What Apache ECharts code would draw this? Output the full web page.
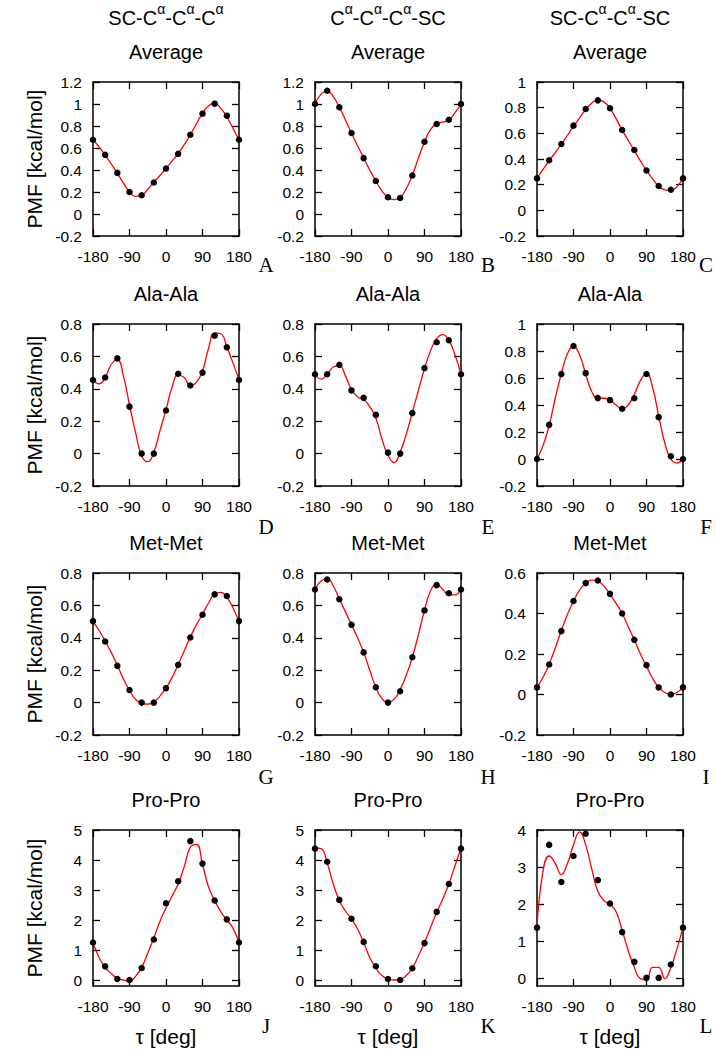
<!DOCTYPE html>
<html lang="en">
<head>
    <meta charset="UTF-8">
    <title>PMF torsion profiles</title>
    <script src="https://cdn.jsdelivr.net/npm/echarts@6/dist/echarts.min.js"></script>
    <style>
        html, body { margin: 0; padding: 0; background: #fff; }
        #chart { width: 716px; height: 1050px; }
    </style>
</head>
<body>
<div id="chart"></div>
<script>
    // torsion angles of the computed points and of the read-off fit curve
    var tau = [-180, -150, -120, -90, -60, -30, 0, 30, 60, 90, 120, 150, 180];
    var tauFine = [-180, -165, -150, -135, -120, -105, -90, -75, -60, -45, -30, -15, 0,
        15, 30, 45, 60, 75, 90, 105, 120, 135, 150, 165, 180];

    var headers = ['SC-C|-C|-C|', 'C|-C|-C|-SC', 'SC-C|-C|-SC'];
    var rowTitles = ['Average', 'Ala-Ala', 'Met-Met', 'Pro-Pro'];
    var letters = ['A', 'B', 'C', 'D', 'E', 'F', 'G', 'H', 'I', 'J', 'K', 'L'];

    var ticksAvg = [-0.2, 0, 0.2, 0.4, 0.6, 0.8, 1, 1.2];
    var ticks10 = [-0.2, 0, 0.2, 0.4, 0.6, 0.8, 1];
    var ticks08 = [-0.2, 0, 0.2, 0.4, 0.6, 0.8];
    var ticks06 = [-0.2, 0, 0.2, 0.4, 0.6];
    var ticksPro5 = [0, 1, 2, 3, 4, 5];
    var ticksPro4 = [0, 1, 2, 3, 4];

    // Average
    var dotsA = [0.675, 0.538, 0.374, 0.20, 0.17, 0.286, 0.413, 0.547, 0.72, 0.912, 1.003, 0.894, 0.675];
    var curveA = [0.675, 0.61, 0.535, 0.455, 0.37, 0.28, 0.20, 0.16, 0.17, 0.225, 0.29, 0.35, 0.415,
        0.48, 0.55, 0.63, 0.72, 0.82, 0.915, 0.985, 1.005, 0.96, 0.885, 0.78, 0.675];
    var dotsB = [1.0, 1.12, 0.97, 0.736, 0.508, 0.30, 0.152, 0.146, 0.35, 0.657, 0.818, 0.857, 1.0];
    var curveB = [1.0, 1.09, 1.12, 1.07, 0.97, 0.855, 0.735, 0.62, 0.51, 0.40, 0.30, 0.21, 0.15,
        0.13, 0.15, 0.23, 0.35, 0.51, 0.655, 0.77, 0.82, 0.835, 0.855, 0.92, 1.0];
    var dotsC = [0.249, 0.39, 0.517, 0.66, 0.79, 0.857, 0.795, 0.626, 0.47, 0.31, 0.19, 0.16, 0.249];
    var curveC = [0.25, 0.32, 0.385, 0.45, 0.515, 0.585, 0.655, 0.72, 0.785, 0.835, 0.86, 0.845, 0.795,
        0.715, 0.625, 0.545, 0.465, 0.385, 0.31, 0.245, 0.19, 0.16, 0.155, 0.185, 0.25];
    // Ala-Ala
    var dotsD = [0.454, 0.47, 0.588, 0.29, 0.0, 0.0, 0.266, 0.493, 0.42, 0.50, 0.728, 0.656, 0.454];
    var curveD = [0.455, 0.43, 0.47, 0.55, 0.58, 0.48, 0.30, 0.13, -0.015, -0.05, 0.01, 0.14, 0.27,
        0.41, 0.485, 0.47, 0.42, 0.44, 0.51, 0.65, 0.745, 0.74, 0.66, 0.56, 0.455];
    var dotsE = [0.49, 0.49, 0.548, 0.39, 0.344, 0.239, 0.006, 0.0, 0.25, 0.528, 0.687, 0.70, 0.49];
    var curveE = [0.49, 0.46, 0.49, 0.535, 0.545, 0.48, 0.395, 0.35, 0.335, 0.29, 0.22, 0.09, -0.01,
        -0.055, 0.01, 0.12, 0.255, 0.39, 0.525, 0.635, 0.71, 0.735, 0.70, 0.61, 0.49];
    var dotsF = [0.0, 0.253, 0.629, 0.837, 0.636, 0.451, 0.436, 0.372, 0.45, 0.63, 0.31, 0.02, 0.0];
    var curveF = [0.0, 0.1, 0.25, 0.45, 0.63, 0.78, 0.835, 0.77, 0.63, 0.5, 0.45, 0.45, 0.435,
        0.40, 0.37, 0.40, 0.48, 0.58, 0.635, 0.53, 0.32, 0.12, 0.0, -0.03, 0.0];
    // Met-Met
    var dotsG = [0.503, 0.377, 0.227, 0.078, 0.0, 0.0, 0.089, 0.233, 0.402, 0.542, 0.668, 0.658, 0.503];
    var curveG = [0.50, 0.445, 0.38, 0.31, 0.23, 0.145, 0.075, 0.02, -0.005, -0.01, 0.005, 0.04, 0.09,
        0.155, 0.235, 0.32, 0.405, 0.48, 0.545, 0.615, 0.67, 0.68, 0.65, 0.585, 0.50];
    var dotsH = [0.698, 0.76, 0.638, 0.48, 0.31, 0.095, 0.0, 0.07, 0.28, 0.569, 0.725, 0.675, 0.698];
    var curveH = [0.70, 0.75, 0.765, 0.72, 0.64, 0.56, 0.48, 0.40, 0.31, 0.20, 0.095, 0.025, 0.0,
        0.02, 0.08, 0.17, 0.28, 0.42, 0.57, 0.69, 0.73, 0.70, 0.665, 0.665, 0.70];
    var dotsI = [0.035, 0.148, 0.313, 0.462, 0.55, 0.563, 0.497, 0.40, 0.27, 0.145, 0.035, 0.0, 0.035];
    var curveI = [0.035, 0.085, 0.15, 0.23, 0.315, 0.395, 0.46, 0.515, 0.55, 0.565, 0.56, 0.535, 0.495,
        0.45, 0.40, 0.335, 0.27, 0.2, 0.14, 0.08, 0.035, 0.01, 0.0, 0.01, 0.035];
    // Pro-Pro
    var dotsJ = [1.25, 0.455, 0.033, 0.0, 0.40, 1.35, 2.56, 3.29, 4.63, 3.88, 2.65, 2.02, 1.25];
    var curveJ = [1.25, 0.75, 0.42, 0.22, 0.06, 0.0, -0.03, 0.12, 0.42, 0.9, 1.4, 1.95, 2.4,
        2.8, 3.2, 3.78, 4.42, 4.52, 3.85, 3.1, 2.65, 2.28, 2.0, 1.73, 1.25];
    var dotsK = [4.38, 3.94, 2.67, 2.04, 1.27, 0.457, 0.033, 0.0, 0.39, 1.23, 2.27, 3.2, 4.38];
    var curveK = [4.4, 4.38, 3.9, 3.2, 2.65, 2.3, 2.03, 1.7, 1.25, 0.75, 0.4, 0.15, 0.04,
        0.0, 0.02, 0.15, 0.4, 0.8, 1.25, 1.75, 2.25, 2.7, 3.2, 3.8, 4.4];
    var dotsL = [1.37, 3.6, 2.6, 3.3, 3.9, 2.65, 2.02, 1.25, 0.45, 0.02, 0.02, 0.38, 1.37];
    var curveL = [1.37, 2.9, 3.3, 3.1, 2.8, 3.1, 3.6, 3.95, 3.6, 2.95, 2.35, 2.1, 2.0,
        1.8, 1.3, 0.75, 0.3, 0.0, -0.03, 0.3, 0.3, 0.0, 0.3, 0.8, 1.37];

    var panels = [
        {dots: dotsA, curve: curveA, yMax: 1.2, ticks: ticksAvg},
        {dots: dotsB, curve: curveB, yMax: 1.2, ticks: ticksAvg},
        {dots: dotsC, curve: curveC, yMax: 1.0, ticks: ticks10},
        {dots: dotsD, curve: curveD, yMax: 0.8, ticks: ticks08},
        {dots: dotsE, curve: curveE, yMax: 0.8, ticks: ticks08},
        {dots: dotsF, curve: curveF, yMax: 1.0, ticks: ticks10},
        {dots: dotsG, curve: curveG, yMax: 0.8, ticks: ticks08},
        {dots: dotsH, curve: curveH, yMax: 0.8, ticks: ticks08},
        {dots: dotsI, curve: curveI, yMax: 0.6, ticks: ticks06},
        {dots: dotsJ, curve: curveJ, yMax: 5, ticks: ticksPro5},
        {dots: dotsK, curve: curveK, yMax: 5, ticks: ticksPro5},
        {dots: dotsL, curve: curveL, yMax: 4, ticks: ticksPro4}
    ];

    // layout (px)
    var colLeft = [93, 315, 537];
    var plotW = 146;
    var letterX = [266, 488, 706];
    var rowTop = [82, 324, 573, 830];
    var rowH = [154, 162, 162, 156];
    var letterY = [265, 527, 777, 1026];

    var sans = 'Liberation Sans';
    var grids = [], xAxes = [], yAxes = [], series = [], graphics = [];

    function pairs(xs, ys) {
        return xs.map(function (x, k) { return [x, ys[k]]; });
    }

    function centred(text, font) {
        return {text: text, fill: '#000', font: font, align: 'center', verticalAlign: 'middle',
            textAlign: 'center', textVerticalAlign: 'middle'};
    }

    // each panel uses two stacked grids: one draws the frame, labels and data,
    // the other only the inward mirror ticks (they do not show next to a drawn axis line)
    var frameLine = {show: true, onZero: false, lineStyle: {color: '#000', width: 1.5}};
    var noLine = {show: false, onZero: false};
    var tickStyle = {color: '#000', width: 1.3};

    panels.forEach(function (p, i) {
        var r = Math.floor(i / 3), c = i % 3;
        var box = {left: colLeft[c], top: rowTop[r], width: plotW, height: rowH[r], outerBoundsMode: 'none'};
        var g = grids.length;
        grids.push(Object.assign({}, box));
        grids.push(Object.assign({}, box));
        var xTick = {show: true, inside: true, length: 7, lineStyle: tickStyle};
        var yTick = {show: true, inside: true, length: 7, customValues: p.ticks, lineStyle: tickStyle};
        var xBase = {type: 'value', min: -180, max: 180, interval: 90, splitLine: {show: false}};
        var yBase = {type: 'value', min: -0.2, max: p.yMax, splitLine: {show: false}};

        var xi = xAxes.length, yi = yAxes.length;
        // frame + labels
        xAxes.push(Object.assign({gridIndex: g, axisLine: frameLine, axisTick: {show: false},
            axisLabel: {color: '#000', fontFamily: sans, fontSize: 15.5, margin: 12,
                showMinLabel: true, showMaxLabel: true}}, xBase));
        xAxes.push(Object.assign({gridIndex: g, position: 'top', axisLine: frameLine,
            axisTick: {show: false}, axisLabel: {show: false}}, xBase));
        yAxes.push(Object.assign({gridIndex: g, axisLine: frameLine, axisTick: {show: false},
            axisLabel: {color: '#000', fontFamily: sans, fontSize: 15.5, margin: 11,
                customValues: p.ticks, formatter: function (v) { return String(v); }}}, yBase));
        yAxes.push(Object.assign({gridIndex: g, position: 'right', axisLine: frameLine,
            axisTick: {show: false}, axisLabel: {show: false}}, yBase));
        // mirror ticks
        xAxes.push(Object.assign({gridIndex: g + 1, axisLine: noLine, axisTick: xTick,
            axisLabel: {show: false}}, xBase));
        xAxes.push(Object.assign({gridIndex: g + 1, position: 'top', axisLine: noLine, axisTick: xTick,
            axisLabel: {show: false}}, xBase));
        yAxes.push(Object.assign({gridIndex: g + 1, axisLine: noLine, axisTick: yTick,
            axisLabel: {show: false}}, yBase));
        yAxes.push(Object.assign({gridIndex: g + 1, position: 'right', axisLine: noLine, axisTick: yTick,
            axisLabel: {show: false}}, yBase));

        series.push({
            type: 'line', xAxisIndex: xi, yAxisIndex: yi,
            data: pairs(tauFine, p.curve), smooth: 0.5, showSymbol: false,
            lineStyle: {color: '#ff0000', width: 1.3}, z: 2, silent: true
        });
        series.push({
            type: 'scatter', xAxisIndex: xi, yAxisIndex: yi,
            data: pairs(tau, p.dots), symbol: 'circle', symbolSize: 6.5,
            itemStyle: {color: '#000', opacity: 1}, z: 3, silent: true
        });

        var cx = colLeft[c] + plotW / 2;
        graphics.push({type: 'text', x: cx, y: rowTop[r] - 30,
            style: centred(rowTitles[r], '20px "Liberation Sans"')});
        graphics.push({type: 'text', x: letterX[c], y: letterY[r],
            style: centred(letters[i], '21px "Liberation Serif"')});
        if (c === 0) {
            graphics.push({type: 'text', x: 34, y: rowTop[r] + rowH[r] / 2, rotation: Math.PI / 2,
                style: centred('PMF [kcal/mol]', '21px "Liberation Sans"')});
        }
        if (r === 3) {
            graphics.push({type: 'text', x: cx, y: 1036,
                style: centred('τ [deg]', '21px "Liberation Sans"')});
        }
    });

    // column headers with superscript alpha
    headers.forEach(function (h, c) {
        var rich = h.split('|').map(function (part, k, all) {
            return '{n|' + part + '}' + (k < all.length - 1 ? '{s|α}' : '');
        }).join('');
        graphics.push({
            type: 'text', x: colLeft[c] + plotW / 2, y: 15,
            style: {
                text: rich, align: 'center', verticalAlign: 'middle',
                textAlign: 'center', textVerticalAlign: 'middle',
                rich: {
                    n: {fontFamily: sans, fontSize: 20, lineHeight: 26, verticalAlign: 'bottom', fill: '#000'},
                    s: {fontFamily: sans, fontSize: 14, lineHeight: 14, verticalAlign: 'top', fill: '#000'}
                }
            }
        });
    });

    var chart = echarts.init(document.getElementById('chart'), null, {renderer: 'svg'});
    chart.setOption({
        animation: false,
        backgroundColor: '#fff',
        grid: grids,
        xAxis: xAxes,
        yAxis: yAxes,
        series: series,
        graphic: {elements: graphics}
    });
</script>
</body>
</html>
